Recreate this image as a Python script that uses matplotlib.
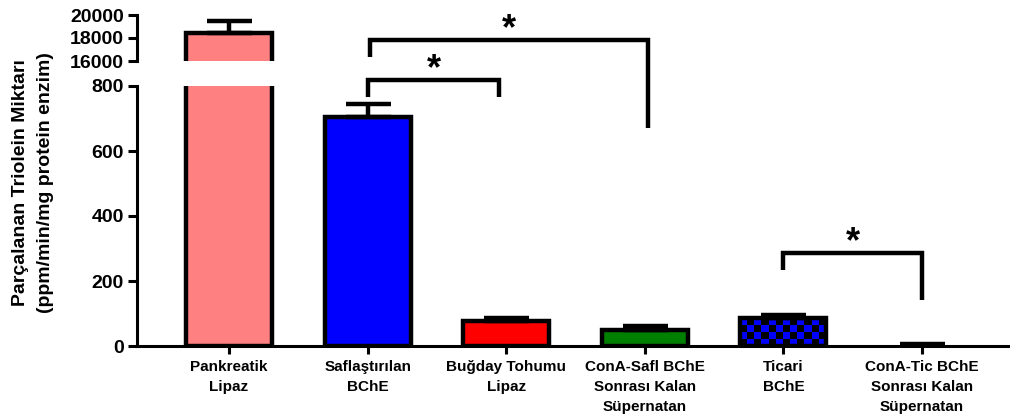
import numpy as np
import matplotlib
matplotlib.use("Agg")
import matplotlib.pyplot as plt
from matplotlib.colors import ListedColormap

plt.rcParams['font.family'] = ['Liberation Sans', 'DejaVu Sans']
plt.rcParams['font.weight'] = 'bold'

# ---- data -------------------------------------------------------------
categories = ["Pankreatik\nLipaz", "Saflaştırılan\nBChE", "Buğday Tohumu\nLipaz",
              "ConA-Safl BChE\nSonrası Kalan\nSüpernatan", "Ticari\nBChE",
              "ConA-Tic BChE\nSonrası Kalan\nSüpernatan"]
values = [18400, 705, 77, 49, 85, 0]
errors = [1100, 40, 10, 12, 11, 6]
colors = ["#FF8080", "#0000FF", "#FF0000", "#008000", "checker", "white"]

low_ticks = [0, 200, 400, 600, 800]
high_ticks = [16000, 18000, 20000]

# significance brackets: left x, right x, bracket height, left leg end, right leg end
brackets = [
    (1.00, 1.95, 818, 766, 766),
    (1.02, 3.02, 941, 889, 671),
    (4.00, 5.00, 286, 234, 142),
]
bracket_text = "*"

# ---- figure -----------------------------------------------------------
W, H = 1010, 415
fig = plt.figure(figsize=(W / 100, H / 100), dpi=100)
left, right = 137, 1008
ax = fig.add_axes([left / W, (H - 346) / H, (right - left) / W, 260 / H])
axt = fig.add_axes([left / W, (H - 61) / H, (right - left) / W, 46 / H], sharex=ax)

x = np.arange(len(categories))
bw = 0.62
lw = 3.2

for a, ylim in ((ax, (0, 800)), (axt, (16000, 20000))):
    for i, (v, e, c) in enumerate(zip(values, errors, colors)):
        if v > 0:
            fc = "none" if c == "checker" else c
            bar = a.bar(x[i], v, width=bw, color=fc, edgecolor="black",
                        linewidth=lw, zorder=3)[0]
            if c == "checker" and v > ylim[0]:
                # blue/black checkerboard fill
                nx = int(round(bw / 0.0505))
                ny = max(1, int(round(v / 21.5)))
                grid = (np.add.outer(np.arange(ny), np.arange(nx)) % 2)
                im = a.imshow(grid, cmap=ListedColormap(["black", "#0000FF"]),
                              extent=[x[i] - bw / 2, x[i] + bw / 2, 0, v],
                              origin="lower", interpolation="nearest",
                              aspect="auto", zorder=2)
                im.set_clip_path(bar)
        a.errorbar(x[i], v, yerr=[[0], [e]], fmt="none", ecolor="black",
                   elinewidth=lw, capsize=16.2, capthick=lw, zorder=4)

ax.set_xlim(-0.664, 5.62)
ax.set_ylim(0, 800)
axt.set_ylim(16000, 20000)

# spines
for a in (ax, axt):
    a.spines["top"].set_visible(False)
    a.spines["right"].set_visible(False)
    a.spines["left"].set_linewidth(2.2)
    a.tick_params(axis="y", direction="out", length=6.5, width=2.2,
                  labelsize=14, pad=3)
ax.spines["bottom"].set_linewidth(2.2)
axt.spines["bottom"].set_visible(False)
ax.spines["left"].set_bounds(0, 800)
axt.spines["left"].set_bounds(16000, 20000)
ax.set_yticks(low_ticks)
axt.set_yticks(high_ticks)
for lbl in ax.get_yticklabels() + axt.get_yticklabels():
    lbl.set_fontweight("bold")

axt.tick_params(axis="x", bottom=False, labelbottom=False)
ax.set_xticks(x)
ax.set_xticklabels(categories, fontsize=11, fontweight="bold", linespacing=1.55)
ax.tick_params(axis="x", direction="out", length=6, width=2.2, pad=4)
ax.set_facecolor("none")
axt.set_facecolor("none")

# y axis title
fig.text(33 / W, 1 - 183 / H,
         "Parçalanan Triolein Miktarı\n(ppm/min/mg protein enzim)",
         rotation=90, ha="center", va="center", fontsize=14,
         fontweight="bold", multialignment="center", linespacing=1.65)

# significance brackets
for xl, xr, yb, yl, yr in brackets:
    ax.plot([xl, xl, xr, xr], [yl, yb, yb, yr], color="black", linewidth=lw,
            solid_joinstyle="miter", solid_capstyle="butt", clip_on=False,
            zorder=5)
    ax.text((xl + xr) / 2, yb + 4, bracket_text, ha="center", va="baseline",
            fontsize=26, fontweight="bold", clip_on=False)

fig.savefig("out.png", dpi=100)
